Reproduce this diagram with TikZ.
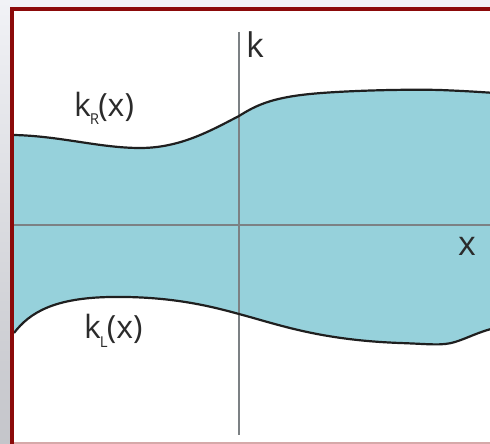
\documentclass[tikz,border=0pt]{standalone}
\usepackage{fontspec}
\setmainfont{Open Sans}
\usetikzlibrary{positioning}
\definecolor{framered}{HTML}{8B0A0A}
\definecolor{bandteal}{HTML}{96D1DB}
\definecolor{axisgrey}{HTML}{7C8184}
\definecolor{labelgrey}{HTML}{2B2B2B}
\definecolor{pagegrey}{HTML}{F1F2F6}
\definecolor{edgegrey}{HTML}{C4C5CA}
\newcommand{\biglbl}{\fontsize{34}{34}\selectfont}
\newcommand{\midlbl}{\fontsize{32}{32}\selectfont}
\newcommand{\sublbl}[1]{\raisebox{-9pt}{\fontsize{15}{15}\selectfont #1}}

\begin{document}
\begin{tikzpicture}[x=1pt,y=-1pt,
  curve/.style={line width=2.2pt,black!88},
  axis/.style={line width=1.1pt,axisgrey},
  lbl/.style={inner sep=0pt,anchor=base west,text=labelgrey}]
  \useasboundingbox (0,0) rectangle (490,444);
  % page and frame background
  \fill[pagegrey] (0,0) rectangle (490,444);
  \shade[top color=pagegrey,bottom color=edgegrey] (0,0) rectangle (12,444);
  \fill[white] (12,9) rectangle (490,444);
  \begin{scope}
    \clip (14,11) rectangle (490,442);
    % band under k_R, then cut out under k_L
    \fill[bandteal] (14,135) .. controls (60,136) and (100,148) .. (140,148)
      .. controls (180,148) and (210,131) .. (239,116)
      .. controls (255,106) and (270,98) .. (310,94)
      .. controls (340,91) and (400,89) .. (440,90)
      .. controls (465,91) and (480,92) .. (495,93)
      -- (495,450) -- (14,450) -- cycle;
    \fill[white] (14,333) .. controls (30,312) and (55,298) .. (110,297)
      .. controls (170,296) and (210,306) .. (239,314)
      .. controls (280,325) and (320,340) .. (400,343)
      .. controls (430,344) and (442,346) .. (455,342)
      .. controls (468,338) and (478,332) .. (495,328)
      -- (495,450) -- (14,450) -- cycle;
    \draw[axis] (14,225) -- (490,225);
    \draw[axis] (239,32) -- (239,435);
    \draw[curve] (14,135) .. controls (60,136) and (100,148) .. (140,148)
      .. controls (180,148) and (210,131) .. (239,116)
      .. controls (255,106) and (270,98) .. (310,94)
      .. controls (340,91) and (400,89) .. (440,90)
      .. controls (465,91) and (480,92) .. (495,93);
    \draw[curve] (14,333) .. controls (30,312) and (55,298) .. (110,297)
      .. controls (170,296) and (210,306) .. (239,314)
      .. controls (280,325) and (320,340) .. (400,343)
      .. controls (430,344) and (442,346) .. (455,342)
      .. controls (468,338) and (478,332) .. (495,328);
  \end{scope}
  % frame
  \draw[framered,line width=4pt] (12,444) -- (12,9) -- (490,9);
  \draw[framered!35,line width=1.5pt] (14,443.2) -- (490,443.2);
  % labels
  \node[lbl] (kaxis) at (246,58) {\biglbl k};
  \node[lbl] (xaxis) at (458,255) {\biglbl x};
  \node[lbl] (kR) at (74,116) {\midlbl k\kern-1pt\sublbl{R}\kern-1pt(x)};
  \node[lbl] (kL) at (84,338) {\midlbl k\kern-1pt\sublbl{L}\kern-1pt(x)};
\end{tikzpicture}
\end{document}
